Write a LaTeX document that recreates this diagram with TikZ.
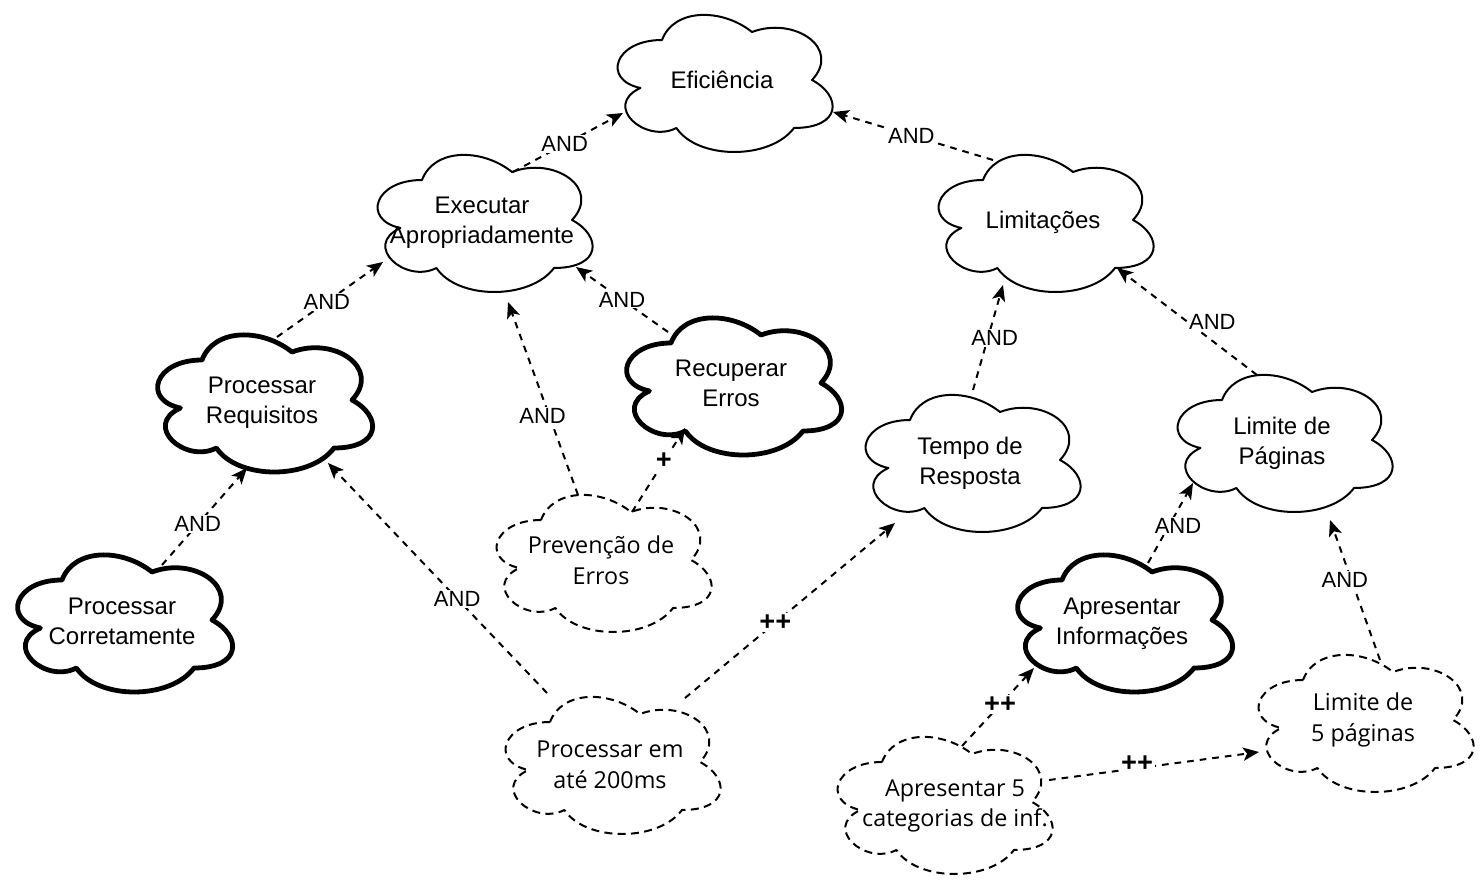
\documentclass[tikz,border=0pt]{standalone}
\usepackage{fontspec}
\setmainfont{Liberation Sans}
\newfontfamily\segoe{Open Sans}
\usetikzlibrary{arrows.meta,calc}

\newcommand\mycloud[6]{%
  \path[shift={(#2,#3)},cloudbase,#4] (-60,-40)
    .. controls (-108,-40) and (-120,0) .. (-81.6,8)
    .. controls (-120,25.6) and (-76.8,64) .. (-45.6,48)
    .. controls (-24,80) and (48,80) .. (72,48)
    .. controls (120,48) and (120,16) .. (90,0)
    .. controls (120,-32) and (72,-64) .. (30,-48)
    .. controls (0,-72) and (-48,-72) .. (-60,-40) -- cycle;
  \node[#5] (#1) at (#2,#3) {#6};
}

\tikzset{
  cloudbase/.style={draw=black, fill=white, line width=1.5pt, line join=round},
  cthick/.style={line width=3.6pt},
  cdash/.style={dash pattern=on 6pt off 4pt},
  txt/.style={align=center, inner sep=0pt, font=\fontsize{18}{22.5}\selectfont},
  stxt/.style={align=center, inner sep=0pt, font=\segoe\fontsize{17.5}{23}\selectfont},
  conn/.style={draw=black, line width=1.5pt, dash pattern=on 5pt off 4.5pt,
    -{Stealth[length=12pt,width=10pt,inset=3pt]}},
  lab/.style={fill=white, inner sep=1pt, font=\fontsize{16.5}{18}\selectfont},
  plab/.style={fill=white, inner sep=1pt, font=\segoe\bfseries\fontsize{21}{22}\selectfont},
}

\begin{document}
\begin{tikzpicture}[x=0.75pt,y=-0.75pt]
\useasboundingbox (0,0) rectangle (1484,884);

\mycloud{eff}{722}{80}{}{txt}{Eficiência}
\mycloud{exe}{482}{223}{shift={(0,-3)}}{txt}{Executar\\Apropriadamente}
\mycloud{lim}{1043}{222}{shift={(0,-2)}}{txt}{Limitações}
\mycloud{preq}{262}{403}{cthick,shift={(0,-3)}}{txt}{Processar\\Requisitos}
\mycloud{rec}{731}{383}{cthick}{txt}{Recuperar\\Erros}
\mycloud{tempo}{970}{463}{shift={(0,-3)}}{txt}{Tempo de\\Resposta}
\mycloud{limpag}{1282}{443}{shift={(0,-3)}}{txt}{Limite de\\Páginas}
\mycloud{pcorr}{122}{621}{cthick,shift={(0,-1)}}{txt}{Processar\\Corretamente}
\mycloud{prev}{601}{560}{cdash}{stxt}{Prevenção de\\Erros}
\mycloud{p200}{610}{765}{cdash,shift={(0,-3)}}{stxt}{Processar em\\até 200ms}
\mycloud{apinf}{1122}{624}{cthick,shift={(0,-4)}}{txt}{Apresentar\\Informações}
\mycloud{lim5}{1363}{720}{cdash}{stxt}{Limite de\\5 páginas}
\mycloud{ap5}{955}{806}{cdash,shift={(-13,-4)}}{stxt}{Apresentar 5\\categorias de inf.}

\draw[conn] ($(exe)+(31,-51)$) -- node[lab,pos=.47] (l1) {AND} ($(eff)+(-99,33)$);
\draw[conn] ($(lim)+(-50,-62)$) -- node[lab,pos=.51] (l2) {AND} ($(eff)+(111,32)$);
\draw[conn] ($(preq)+(15,-66)$) -- node[lab,pos=.47] (l3) {AND} ($(exe)+(-99,39)$);
\draw[conn] ($(prev)+(-23,-65)$) -- node[lab,pos=.41,xshift=-5pt] (l4) {AND} ($(exe)+(26,79)$);
\draw[conn] ($(rec)+(-63,-51)$) -- node[lab,pos=.5] (l5) {AND} ($(exe)+(94,44)$);
\draw[conn] ($(prev)+(31,-48)$) -- node[plab,pos=.6] (l6) {+} ($(rec)+(-46,45)$);
\draw[conn] ($(pcorr)+(40,-56)$) -- node[lab,pos=.42] (l7) {AND} ($(preq)+(-15,65)$);
\draw[conn] ($(p200)+(-63,-72)$) -- node[lab,pos=.41] (l8) {AND} ($(preq)+(66,60)$);
\draw[conn] ($(p200)+(75,-67)$) -- node[plab,pos=.43] (l9) {++} ($(tempo)+(-75,60)$);
\draw[conn] ($(tempo)+(3,-73)$) -- node[lab,pos=.5,xshift=5pt] (l10) {AND} ($(lim)+(-40,63)$);
\draw[conn] ($(limpag)+(-25,-68)$) -- node[lab,pos=.5,xshift=19pt] (l11) {AND} ($(lim)+(74,46)$);
\draw[conn] ($(apinf)+(26,-61)$) -- node[lab,pos=.46,xshift=7pt] (l12) {AND} ($(limpag)+(-89,40)$);
\draw[conn] ($(lim5)+(17,-60)$) -- node[lab,pos=.57,xshift=-5pt] (l13) {AND} ($(limpag)+(48,77)$);
\draw[conn] ($(ap5)+(7,-60)$) -- node[plab,pos=.53] (l14) {++} ($(apinf)+(-88,44)$);
\draw[conn] ($(ap5)+(94,-26)$) -- node[plab,pos=.42,yshift=3pt] (l15) {++} ($(lim5)+(-104,32)$);
\end{tikzpicture}
\end{document}
